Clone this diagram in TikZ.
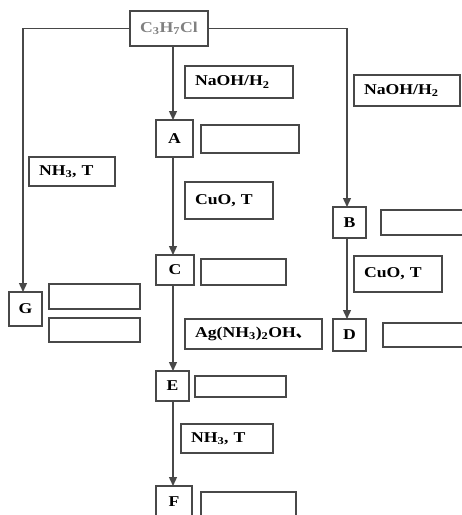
\documentclass[tikz,border=0pt]{standalone}
\usepackage{fontspec}
\setmainfont{Liberation Serif}[FakeStretch=1.18]
\newfontfamily\cjkfont{Noto Sans CJK SC}
\usetikzlibrary{arrows.meta}
\definecolor{edge}{HTML}{484848}
\definecolor{srctext}{HTML}{808080}
\begin{document}
\begin{tikzpicture}[x=1pt,y=-1pt,
  font=\fontsize{15}{17}\selectfont\bfseries,
  box/.style={draw=edge, line width=1.2pt, inner sep=0pt, outer sep=0pt, anchor=north west},
  lbl/.style={box, inner xsep=10pt, align=left},
  arr/.style={draw=edge, line width=1.4pt, -{Triangle[length=9pt,width=8pt]}},
  ln/.style={draw=edge, line width=1.4pt}]
\useasboundingbox (0,0) rectangle (462,515);
\fill[white] (0,0) rectangle (462,515);
\clip (0,0) rectangle (462,515);
% source
\node[box, minimum width=78pt, minimum height=35pt, text=srctext] (src) at (130,11) {C\textsubscript{3}H\textsubscript{7}Cl};
% letter boxes
\node[box, minimum width=37pt, minimum height=37pt] (A) at (156,120) {A};
\node[box, minimum width=33pt, minimum height=31pt] (B) at (333,207) {B};
\node[box, minimum width=38pt, minimum height=30pt] (C) at (156,255) {C};
\node[box, minimum width=33pt, minimum height=34pt] (G) at (9,292) {G};
\node[box, minimum width=33pt, minimum height=32pt] (D) at (333,319) {D};
\node[box, minimum width=33pt, minimum height=30pt] (E) at (156,371) {E};
\node[box, minimum width=36pt, minimum height=32pt] (F) at (156,486) {F};
% condition labels
\node[lbl, text width=88pt, minimum height=32pt] (l1) at (185,66) {NaOH/H\textsubscript{2}};
\node[lbl, text width=86pt, minimum height=31pt] (l2) at (354,75) {NaOH/H\textsubscript{2}};
\node[lbl, text width=66pt, minimum height=29pt] (l3) at (29,157) {NH\textsubscript{3}, T};
\node[lbl, text width=68pt, minimum height=37pt] (l4) at (185,182) {CuO, T};
\node[lbl, text width=68pt, minimum height=36pt] (l5) at (354,256) {CuO, T};
\node[lbl, text width=117pt, minimum height=30pt] (l6) at (185,319) {Ag(NH\textsubscript{3})\textsubscript{2}OH{\cjkfont 、}};
\node[lbl, text width=72pt, minimum height=29pt] (l7) at (181,424) {NH\textsubscript{3}, T};
% answer boxes
\node[box, minimum width=98pt, minimum height=28pt] (aA) at (201,125) {};
\node[box, minimum width=95pt, minimum height=25pt] (aB) at (381,210) {};
\node[box, minimum width=85pt, minimum height=26pt] (aC) at (201,259) {};
\node[box, minimum width=91pt, minimum height=25pt] (aG1) at (49,284) {};
\node[box, minimum width=91pt, minimum height=24pt] (aG2) at (49,318) {};
\node[box, minimum width=92pt, minimum height=24pt] (aD) at (383,323) {};
\node[box, minimum width=91pt, minimum height=21pt] (aE) at (195,376) {};
\node[box, minimum width=95pt, minimum height=40pt] (aF) at (201,492) {};
% connectors
\coordinate (mx) at (173,0);
\coordinate (lx) at (23,0);
\coordinate (rx) at (347,0);
\draw[arr] (src.south -| mx) -- (A.north -| mx);
\draw[arr] (A.south -| mx) -- (C.north -| mx);
\draw[arr] (C.south -| mx) -- (E.north -| mx);
\draw[arr] (E.south -| mx) -- (F.north -| mx);
\draw[arr] (src.west) -| (G.north -| lx);
\draw[arr] (src.east) -| (B.north -| rx);
\draw[arr] (B.south -| rx) -- (D.north -| rx);
\end{tikzpicture}
\end{document}
